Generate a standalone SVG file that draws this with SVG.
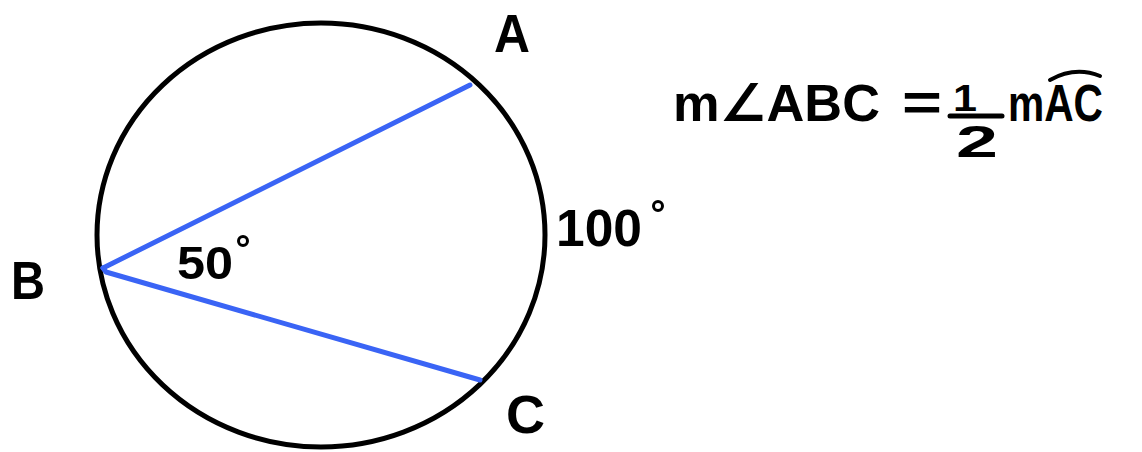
<svg xmlns="http://www.w3.org/2000/svg" width="1142" height="452" viewBox="0 0 1142 452">
<style>
text{font-family:"Liberation Sans","DejaVu Sans",sans-serif;fill:#000;font-weight:bold}
.lbl{font-size:54px}
.eq{font-size:52px}
</style>
<rect width="1142" height="452" fill="#fff"/>
<g id="circle">
<ellipse cx="321" cy="235" rx="224" ry="212" fill="none" stroke="#000" stroke-width="5"/>
</g>
<g id="connectors">
<path d="M103,268 L470,85" fill="none" stroke="#3a64f5" stroke-width="5" stroke-linecap="round"/>
<path d="M103,268 L106,272 L480,380" fill="none" stroke="#3a64f5" stroke-width="5" stroke-linecap="round" stroke-linejoin="round"/>
</g>
<g id="labelA"><text class="lbl" x="494" y="52" textLength="36" lengthAdjust="spacingAndGlyphs">A</text></g>
<g id="labelB"><text class="lbl" x="11" y="299" textLength="34" lengthAdjust="spacingAndGlyphs">B</text></g>
<g id="labelC"><text class="lbl" x="506" y="433" textLength="39" lengthAdjust="spacingAndGlyphs">C</text></g>
<g id="angle50"><text x="177" y="279" font-size="46" textLength="56" lengthAdjust="spacingAndGlyphs">50</text><circle cx="243" cy="241" r="4.5" fill="none" stroke="#000" stroke-width="3"/></g>
<g id="arc100"><text x="556" y="246" font-size="52" textLength="86" lengthAdjust="spacingAndGlyphs">100</text><circle cx="658" cy="206" r="4.5" fill="none" stroke="#000" stroke-width="3"/></g>
<g id="equation">
<text class="eq" x="673" y="121" textLength="207" lengthAdjust="spacingAndGlyphs">m∠ABC</text>
<text class="eq" x="902" y="120" textLength="40" lengthAdjust="spacingAndGlyphs">=</text>
<text font-size="36" x="953" y="111" textLength="24" lengthAdjust="spacingAndGlyphs">1</text>
<line x1="950" y1="116" x2="1002" y2="116" stroke="#000" stroke-width="5" stroke-linecap="round"/>
<text font-size="44" x="956" y="157" textLength="42" lengthAdjust="spacingAndGlyphs">2</text>
<text class="eq" x="1008" y="121" textLength="95" lengthAdjust="spacingAndGlyphs">mAC</text>
<path d="M1050,80 Q1075,66 1100,76" fill="none" stroke="#000" stroke-width="4" stroke-linecap="round"/>
</g>
</svg>
